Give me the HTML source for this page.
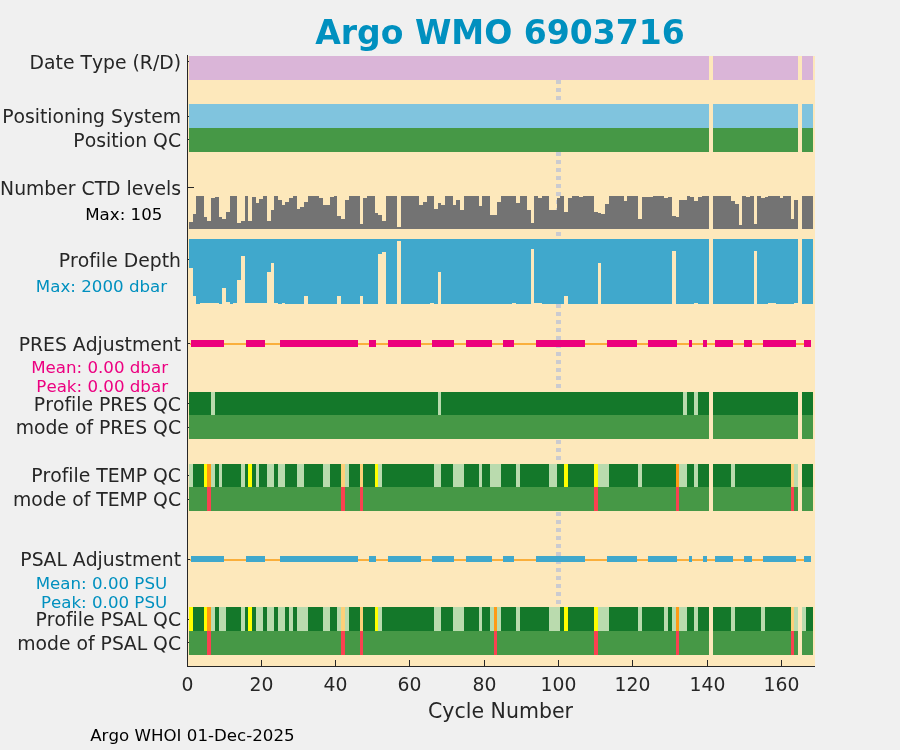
<!DOCTYPE html>
<html><head><meta charset="utf-8"><title>Argo WMO 6903716</title>
<style>
html,body{margin:0;padding:0;background:#F0F0F0;}
body{width:900px;height:750px;overflow:hidden;}
svg{display:block;font-family:"DejaVu Sans","Liberation Sans",sans-serif;font-variant-ligatures:none;font-kerning:none;}
svg .s rect{shape-rendering:crispEdges;}
</style></head><body>
<svg width="900" height="750" viewBox="0 0 900 750">
<rect x="0" y="0" width="900" height="750" fill="#F0F0F0"/>
<g class="s">
<rect x="187" y="56" width="628" height="610.5" fill="#FDE8BB"/>
<rect x="556" y="56" width="5" height="4" fill="#CBCBD0"/>
<rect x="556" y="64" width="5" height="4" fill="#CBCBD0"/>
<rect x="556" y="72" width="5" height="4" fill="#CBCBD0"/>
<rect x="556" y="80" width="5" height="4" fill="#CBCBD0"/>
<rect x="556" y="88" width="5" height="4" fill="#CBCBD0"/>
<rect x="556" y="96" width="5" height="4" fill="#CBCBD0"/>
<rect x="556" y="104" width="5" height="4" fill="#CBCBD0"/>
<rect x="556" y="112" width="5" height="4" fill="#CBCBD0"/>
<rect x="556" y="120" width="5" height="4" fill="#CBCBD0"/>
<rect x="556" y="128" width="5" height="4" fill="#CBCBD0"/>
<rect x="556" y="136" width="5" height="4" fill="#CBCBD0"/>
<rect x="556" y="144" width="5" height="4" fill="#CBCBD0"/>
<rect x="556" y="152" width="5" height="4" fill="#CBCBD0"/>
<rect x="556" y="160" width="5" height="4" fill="#CBCBD0"/>
<rect x="556" y="168" width="5" height="4" fill="#CBCBD0"/>
<rect x="556" y="176" width="5" height="4" fill="#CBCBD0"/>
<rect x="556" y="184" width="5" height="4" fill="#CBCBD0"/>
<rect x="556" y="192" width="5" height="4" fill="#CBCBD0"/>
<rect x="556" y="200" width="5" height="4" fill="#CBCBD0"/>
<rect x="556" y="208" width="5" height="4" fill="#CBCBD0"/>
<rect x="556" y="216" width="5" height="4" fill="#CBCBD0"/>
<rect x="556" y="224" width="5" height="4" fill="#CBCBD0"/>
<rect x="556" y="232" width="5" height="4" fill="#CBCBD0"/>
<rect x="556" y="240" width="5" height="4" fill="#CBCBD0"/>
<rect x="556" y="248" width="5" height="4" fill="#CBCBD0"/>
<rect x="556" y="256" width="5" height="4" fill="#CBCBD0"/>
<rect x="556" y="264" width="5" height="4" fill="#CBCBD0"/>
<rect x="556" y="272" width="5" height="4" fill="#CBCBD0"/>
<rect x="556" y="280" width="5" height="4" fill="#CBCBD0"/>
<rect x="556" y="288" width="5" height="4" fill="#CBCBD0"/>
<rect x="556" y="296" width="5" height="4" fill="#CBCBD0"/>
<rect x="556" y="304" width="5" height="4" fill="#CBCBD0"/>
<rect x="556" y="312" width="5" height="4" fill="#CBCBD0"/>
<rect x="556" y="320" width="5" height="4" fill="#CBCBD0"/>
<rect x="556" y="328" width="5" height="4" fill="#CBCBD0"/>
<rect x="556" y="336" width="5" height="4" fill="#CBCBD0"/>
<rect x="556" y="344" width="5" height="4" fill="#CBCBD0"/>
<rect x="556" y="352" width="5" height="4" fill="#CBCBD0"/>
<rect x="556" y="360" width="5" height="4" fill="#CBCBD0"/>
<rect x="556" y="368" width="5" height="4" fill="#CBCBD0"/>
<rect x="556" y="376" width="5" height="4" fill="#CBCBD0"/>
<rect x="556" y="384" width="5" height="4" fill="#CBCBD0"/>
<rect x="556" y="392" width="5" height="4" fill="#CBCBD0"/>
<rect x="556" y="400" width="5" height="4" fill="#CBCBD0"/>
<rect x="556" y="408" width="5" height="4" fill="#CBCBD0"/>
<rect x="556" y="416" width="5" height="4" fill="#CBCBD0"/>
<rect x="556" y="424" width="5" height="4" fill="#CBCBD0"/>
<rect x="556" y="432" width="5" height="4" fill="#CBCBD0"/>
<rect x="556" y="440" width="5" height="4" fill="#CBCBD0"/>
<rect x="556" y="448" width="5" height="4" fill="#CBCBD0"/>
<rect x="556" y="456" width="5" height="4" fill="#CBCBD0"/>
<rect x="556" y="464" width="5" height="4" fill="#CBCBD0"/>
<rect x="556" y="472" width="5" height="4" fill="#CBCBD0"/>
<rect x="556" y="480" width="5" height="4" fill="#CBCBD0"/>
<rect x="556" y="488" width="5" height="4" fill="#CBCBD0"/>
<rect x="556" y="496" width="5" height="4" fill="#CBCBD0"/>
<rect x="556" y="504" width="5" height="4" fill="#CBCBD0"/>
<rect x="556" y="512" width="5" height="4" fill="#CBCBD0"/>
<rect x="556" y="520" width="5" height="4" fill="#CBCBD0"/>
<rect x="556" y="528" width="5" height="4" fill="#CBCBD0"/>
<rect x="556" y="536" width="5" height="4" fill="#CBCBD0"/>
<rect x="556" y="544" width="5" height="4" fill="#CBCBD0"/>
<rect x="556" y="552" width="5" height="4" fill="#CBCBD0"/>
<rect x="556" y="560" width="5" height="4" fill="#CBCBD0"/>
<rect x="556" y="568" width="5" height="4" fill="#CBCBD0"/>
<rect x="556" y="576" width="5" height="4" fill="#CBCBD0"/>
<rect x="556" y="584" width="5" height="4" fill="#CBCBD0"/>
<rect x="556" y="592" width="5" height="4" fill="#CBCBD0"/>
<rect x="556" y="600" width="5" height="4" fill="#CBCBD0"/>
<rect x="187" y="660" width="1" height="6" fill="#262626"/>
<rect x="261" y="660" width="1" height="6" fill="#262626"/>
<rect x="335" y="660" width="1" height="6" fill="#262626"/>
<rect x="409" y="660" width="1" height="6" fill="#262626"/>
<rect x="484" y="660" width="1" height="6" fill="#262626"/>
<rect x="558" y="660" width="1" height="6" fill="#262626"/>
<rect x="632" y="660" width="1" height="6" fill="#262626"/>
<rect x="707" y="660" width="1" height="6" fill="#262626"/>
<rect x="781" y="660" width="1" height="6" fill="#262626"/>
<rect x="188" y="61" width="6" height="1" fill="#262626"/>
<rect x="188" y="116" width="6" height="1" fill="#262626"/>
<rect x="188" y="139" width="6" height="1" fill="#262626"/>
<rect x="188" y="187" width="6" height="1" fill="#262626"/>
<rect x="188" y="259" width="6" height="1" fill="#262626"/>
<rect x="188" y="343" width="6" height="1" fill="#262626"/>
<rect x="188" y="403" width="6" height="1" fill="#262626"/>
<rect x="188" y="427" width="6" height="1" fill="#262626"/>
<rect x="188" y="475" width="6" height="1" fill="#262626"/>
<rect x="188" y="499" width="6" height="1" fill="#262626"/>
<rect x="188" y="559" width="6" height="1" fill="#262626"/>
<rect x="188" y="619" width="6" height="1" fill="#262626"/>
<rect x="188" y="642" width="6" height="1" fill="#262626"/>
<rect x="189" y="56" width="520" height="24" fill="#DAB5D8"/>
<rect x="713" y="56" width="85" height="24" fill="#DAB5D8"/>
<rect x="802" y="56" width="11" height="24" fill="#DAB5D8"/>
<rect x="189" y="104" width="520" height="24" fill="#80C4DE"/>
<rect x="713" y="104" width="85" height="24" fill="#80C4DE"/>
<rect x="802" y="104" width="11" height="24" fill="#80C4DE"/>
<rect x="189" y="128" width="520" height="24" fill="#469846"/>
<rect x="713" y="128" width="85" height="24" fill="#469846"/>
<rect x="802" y="128" width="11" height="24" fill="#469846"/>
<rect x="189" y="222" width="4" height="7" fill="#737373"/>
<rect x="193" y="214" width="3" height="15" fill="#737373"/>
<rect x="196" y="196" width="4" height="33" fill="#737373"/>
<rect x="200" y="196" width="4" height="33" fill="#737373"/>
<rect x="204" y="217" width="3" height="12" fill="#737373"/>
<rect x="207" y="221" width="4" height="8" fill="#737373"/>
<rect x="211" y="198" width="4" height="31" fill="#737373"/>
<rect x="215" y="197" width="4" height="32" fill="#737373"/>
<rect x="219" y="217" width="3" height="12" fill="#737373"/>
<rect x="222" y="219" width="4" height="10" fill="#737373"/>
<rect x="226" y="212" width="4" height="17" fill="#737373"/>
<rect x="230" y="196" width="3" height="33" fill="#737373"/>
<rect x="233" y="196" width="4" height="33" fill="#737373"/>
<rect x="237" y="223" width="4" height="6" fill="#737373"/>
<rect x="241" y="221" width="4" height="8" fill="#737373"/>
<rect x="245" y="196" width="3" height="33" fill="#737373"/>
<rect x="248" y="221" width="4" height="8" fill="#737373"/>
<rect x="252" y="197" width="4" height="32" fill="#737373"/>
<rect x="256" y="203" width="3" height="26" fill="#737373"/>
<rect x="259" y="199" width="4" height="30" fill="#737373"/>
<rect x="263" y="196" width="4" height="33" fill="#737373"/>
<rect x="267" y="221" width="4" height="8" fill="#737373"/>
<rect x="271" y="210" width="3" height="19" fill="#737373"/>
<rect x="274" y="196" width="4" height="33" fill="#737373"/>
<rect x="278" y="200" width="4" height="29" fill="#737373"/>
<rect x="282" y="205" width="3" height="24" fill="#737373"/>
<rect x="285" y="202" width="4" height="27" fill="#737373"/>
<rect x="289" y="198" width="4" height="31" fill="#737373"/>
<rect x="293" y="196" width="4" height="33" fill="#737373"/>
<rect x="297" y="209" width="3" height="20" fill="#737373"/>
<rect x="300" y="207" width="4" height="22" fill="#737373"/>
<rect x="304" y="202" width="4" height="27" fill="#737373"/>
<rect x="308" y="196" width="3" height="33" fill="#737373"/>
<rect x="311" y="196" width="4" height="33" fill="#737373"/>
<rect x="315" y="196" width="4" height="33" fill="#737373"/>
<rect x="319" y="198" width="4" height="31" fill="#737373"/>
<rect x="323" y="205" width="3" height="24" fill="#737373"/>
<rect x="326" y="205" width="4" height="24" fill="#737373"/>
<rect x="330" y="197" width="4" height="32" fill="#737373"/>
<rect x="334" y="196" width="3" height="33" fill="#737373"/>
<rect x="337" y="216" width="4" height="13" fill="#737373"/>
<rect x="341" y="219" width="4" height="10" fill="#737373"/>
<rect x="345" y="200" width="4" height="29" fill="#737373"/>
<rect x="349" y="196" width="3" height="33" fill="#737373"/>
<rect x="352" y="196" width="4" height="33" fill="#737373"/>
<rect x="356" y="196" width="4" height="33" fill="#737373"/>
<rect x="360" y="224" width="3" height="5" fill="#737373"/>
<rect x="363" y="198" width="4" height="31" fill="#737373"/>
<rect x="367" y="196" width="4" height="33" fill="#737373"/>
<rect x="371" y="196" width="4" height="33" fill="#737373"/>
<rect x="375" y="213" width="3" height="16" fill="#737373"/>
<rect x="378" y="215" width="4" height="14" fill="#737373"/>
<rect x="382" y="221" width="4" height="8" fill="#737373"/>
<rect x="386" y="196" width="3" height="33" fill="#737373"/>
<rect x="389" y="196" width="4" height="33" fill="#737373"/>
<rect x="393" y="196" width="4" height="33" fill="#737373"/>
<rect x="397" y="227" width="4" height="2" fill="#737373"/>
<rect x="401" y="196" width="3" height="33" fill="#737373"/>
<rect x="404" y="196" width="4" height="33" fill="#737373"/>
<rect x="408" y="196" width="4" height="33" fill="#737373"/>
<rect x="412" y="196" width="3" height="33" fill="#737373"/>
<rect x="415" y="196" width="4" height="33" fill="#737373"/>
<rect x="419" y="205" width="4" height="24" fill="#737373"/>
<rect x="423" y="202" width="4" height="27" fill="#737373"/>
<rect x="427" y="196" width="3" height="33" fill="#737373"/>
<rect x="430" y="196" width="4" height="33" fill="#737373"/>
<rect x="434" y="209" width="4" height="20" fill="#737373"/>
<rect x="438" y="203" width="3" height="26" fill="#737373"/>
<rect x="441" y="205" width="4" height="24" fill="#737373"/>
<rect x="445" y="196" width="4" height="33" fill="#737373"/>
<rect x="449" y="196" width="4" height="33" fill="#737373"/>
<rect x="453" y="205" width="3" height="24" fill="#737373"/>
<rect x="456" y="200" width="4" height="29" fill="#737373"/>
<rect x="460" y="210" width="4" height="19" fill="#737373"/>
<rect x="464" y="196" width="4" height="33" fill="#737373"/>
<rect x="468" y="196" width="3" height="33" fill="#737373"/>
<rect x="471" y="196" width="4" height="33" fill="#737373"/>
<rect x="475" y="196" width="4" height="33" fill="#737373"/>
<rect x="479" y="206" width="3" height="23" fill="#737373"/>
<rect x="482" y="196" width="4" height="33" fill="#737373"/>
<rect x="486" y="196" width="4" height="33" fill="#737373"/>
<rect x="490" y="215" width="4" height="14" fill="#737373"/>
<rect x="494" y="215" width="3" height="14" fill="#737373"/>
<rect x="497" y="202" width="4" height="27" fill="#737373"/>
<rect x="501" y="196" width="4" height="33" fill="#737373"/>
<rect x="505" y="196" width="3" height="33" fill="#737373"/>
<rect x="508" y="196" width="4" height="33" fill="#737373"/>
<rect x="512" y="196" width="4" height="33" fill="#737373"/>
<rect x="516" y="203" width="4" height="26" fill="#737373"/>
<rect x="520" y="196" width="3" height="33" fill="#737373"/>
<rect x="523" y="196" width="4" height="33" fill="#737373"/>
<rect x="527" y="210" width="4" height="19" fill="#737373"/>
<rect x="531" y="223" width="3" height="6" fill="#737373"/>
<rect x="534" y="196" width="4" height="33" fill="#737373"/>
<rect x="538" y="198" width="4" height="31" fill="#737373"/>
<rect x="542" y="196" width="4" height="33" fill="#737373"/>
<rect x="546" y="196" width="3" height="33" fill="#737373"/>
<rect x="549" y="210" width="4" height="19" fill="#737373"/>
<rect x="553" y="210" width="4" height="19" fill="#737373"/>
<rect x="557" y="198" width="3" height="31" fill="#737373"/>
<rect x="560" y="196" width="4" height="33" fill="#737373"/>
<rect x="564" y="212" width="4" height="17" fill="#737373"/>
<rect x="568" y="198" width="4" height="31" fill="#737373"/>
<rect x="572" y="196" width="3" height="33" fill="#737373"/>
<rect x="575" y="196" width="4" height="33" fill="#737373"/>
<rect x="579" y="197" width="4" height="32" fill="#737373"/>
<rect x="583" y="196" width="3" height="33" fill="#737373"/>
<rect x="586" y="196" width="4" height="33" fill="#737373"/>
<rect x="590" y="196" width="4" height="33" fill="#737373"/>
<rect x="594" y="212" width="4" height="17" fill="#737373"/>
<rect x="598" y="213" width="3" height="16" fill="#737373"/>
<rect x="601" y="214" width="4" height="15" fill="#737373"/>
<rect x="605" y="204" width="4" height="25" fill="#737373"/>
<rect x="609" y="196" width="3" height="33" fill="#737373"/>
<rect x="612" y="196" width="4" height="33" fill="#737373"/>
<rect x="616" y="196" width="4" height="33" fill="#737373"/>
<rect x="620" y="196" width="4" height="33" fill="#737373"/>
<rect x="624" y="201" width="3" height="28" fill="#737373"/>
<rect x="627" y="196" width="4" height="33" fill="#737373"/>
<rect x="631" y="196" width="4" height="33" fill="#737373"/>
<rect x="635" y="196" width="3" height="33" fill="#737373"/>
<rect x="638" y="219" width="4" height="10" fill="#737373"/>
<rect x="642" y="197" width="4" height="32" fill="#737373"/>
<rect x="646" y="197" width="4" height="32" fill="#737373"/>
<rect x="650" y="197" width="3" height="32" fill="#737373"/>
<rect x="653" y="196" width="4" height="33" fill="#737373"/>
<rect x="657" y="196" width="4" height="33" fill="#737373"/>
<rect x="661" y="196" width="3" height="33" fill="#737373"/>
<rect x="664" y="198" width="4" height="31" fill="#737373"/>
<rect x="668" y="197" width="4" height="32" fill="#737373"/>
<rect x="672" y="216" width="4" height="13" fill="#737373"/>
<rect x="676" y="217" width="3" height="12" fill="#737373"/>
<rect x="679" y="200" width="4" height="29" fill="#737373"/>
<rect x="683" y="200" width="4" height="29" fill="#737373"/>
<rect x="687" y="196" width="3" height="33" fill="#737373"/>
<rect x="690" y="197" width="4" height="32" fill="#737373"/>
<rect x="694" y="201" width="4" height="28" fill="#737373"/>
<rect x="698" y="197" width="4" height="32" fill="#737373"/>
<rect x="702" y="196" width="3" height="33" fill="#737373"/>
<rect x="705" y="196" width="4" height="33" fill="#737373"/>
<rect x="713" y="196" width="3" height="33" fill="#737373"/>
<rect x="716" y="196" width="4" height="33" fill="#737373"/>
<rect x="720" y="196" width="4" height="33" fill="#737373"/>
<rect x="724" y="196" width="4" height="33" fill="#737373"/>
<rect x="728" y="196" width="3" height="33" fill="#737373"/>
<rect x="731" y="201" width="4" height="28" fill="#737373"/>
<rect x="735" y="204" width="4" height="25" fill="#737373"/>
<rect x="739" y="225" width="3" height="4" fill="#737373"/>
<rect x="742" y="196" width="4" height="33" fill="#737373"/>
<rect x="746" y="197" width="4" height="32" fill="#737373"/>
<rect x="750" y="196" width="4" height="33" fill="#737373"/>
<rect x="754" y="224" width="3" height="5" fill="#737373"/>
<rect x="757" y="196" width="4" height="33" fill="#737373"/>
<rect x="761" y="198" width="4" height="31" fill="#737373"/>
<rect x="765" y="197" width="3" height="32" fill="#737373"/>
<rect x="768" y="196" width="4" height="33" fill="#737373"/>
<rect x="772" y="196" width="4" height="33" fill="#737373"/>
<rect x="776" y="196" width="4" height="33" fill="#737373"/>
<rect x="780" y="198" width="3" height="31" fill="#737373"/>
<rect x="783" y="196" width="4" height="33" fill="#737373"/>
<rect x="787" y="196" width="4" height="33" fill="#737373"/>
<rect x="791" y="219" width="3" height="10" fill="#737373"/>
<rect x="794" y="200" width="4" height="29" fill="#737373"/>
<rect x="802" y="196" width="4" height="33" fill="#737373"/>
<rect x="806" y="196" width="3" height="33" fill="#737373"/>
<rect x="809" y="196" width="4" height="33" fill="#737373"/>
<rect x="189" y="239" width="4" height="29" fill="#40A8CC"/>
<rect x="193" y="239" width="3" height="57" fill="#40A8CC"/>
<rect x="196" y="239" width="4" height="65" fill="#40A8CC"/>
<rect x="200" y="239" width="4" height="64" fill="#40A8CC"/>
<rect x="204" y="239" width="3" height="64" fill="#40A8CC"/>
<rect x="207" y="239" width="4" height="64" fill="#40A8CC"/>
<rect x="211" y="239" width="4" height="64" fill="#40A8CC"/>
<rect x="215" y="239" width="4" height="64" fill="#40A8CC"/>
<rect x="219" y="239" width="3" height="65" fill="#40A8CC"/>
<rect x="222" y="239" width="4" height="49" fill="#40A8CC"/>
<rect x="226" y="239" width="4" height="63" fill="#40A8CC"/>
<rect x="230" y="239" width="3" height="65" fill="#40A8CC"/>
<rect x="233" y="239" width="4" height="64" fill="#40A8CC"/>
<rect x="237" y="239" width="4" height="41" fill="#40A8CC"/>
<rect x="241" y="239" width="4" height="17" fill="#40A8CC"/>
<rect x="245" y="239" width="3" height="64" fill="#40A8CC"/>
<rect x="248" y="239" width="4" height="64" fill="#40A8CC"/>
<rect x="252" y="239" width="4" height="64" fill="#40A8CC"/>
<rect x="256" y="239" width="3" height="64" fill="#40A8CC"/>
<rect x="259" y="239" width="4" height="64" fill="#40A8CC"/>
<rect x="263" y="239" width="4" height="64" fill="#40A8CC"/>
<rect x="267" y="239" width="4" height="33" fill="#40A8CC"/>
<rect x="271" y="239" width="3" height="24" fill="#40A8CC"/>
<rect x="274" y="239" width="4" height="64" fill="#40A8CC"/>
<rect x="278" y="239" width="4" height="65" fill="#40A8CC"/>
<rect x="282" y="239" width="3" height="64" fill="#40A8CC"/>
<rect x="285" y="239" width="4" height="65" fill="#40A8CC"/>
<rect x="289" y="239" width="4" height="65" fill="#40A8CC"/>
<rect x="293" y="239" width="4" height="65" fill="#40A8CC"/>
<rect x="297" y="239" width="3" height="65" fill="#40A8CC"/>
<rect x="300" y="239" width="4" height="65" fill="#40A8CC"/>
<rect x="304" y="239" width="4" height="57" fill="#40A8CC"/>
<rect x="308" y="239" width="3" height="65" fill="#40A8CC"/>
<rect x="311" y="239" width="4" height="65" fill="#40A8CC"/>
<rect x="315" y="239" width="4" height="65" fill="#40A8CC"/>
<rect x="319" y="239" width="4" height="65" fill="#40A8CC"/>
<rect x="323" y="239" width="3" height="65" fill="#40A8CC"/>
<rect x="326" y="239" width="4" height="65" fill="#40A8CC"/>
<rect x="330" y="239" width="4" height="65" fill="#40A8CC"/>
<rect x="334" y="239" width="3" height="65" fill="#40A8CC"/>
<rect x="337" y="239" width="4" height="57" fill="#40A8CC"/>
<rect x="341" y="239" width="4" height="65" fill="#40A8CC"/>
<rect x="345" y="239" width="4" height="65" fill="#40A8CC"/>
<rect x="349" y="239" width="3" height="65" fill="#40A8CC"/>
<rect x="352" y="239" width="4" height="65" fill="#40A8CC"/>
<rect x="356" y="239" width="4" height="65" fill="#40A8CC"/>
<rect x="360" y="239" width="3" height="57" fill="#40A8CC"/>
<rect x="363" y="239" width="4" height="65" fill="#40A8CC"/>
<rect x="367" y="239" width="4" height="65" fill="#40A8CC"/>
<rect x="371" y="239" width="4" height="65" fill="#40A8CC"/>
<rect x="375" y="239" width="3" height="65" fill="#40A8CC"/>
<rect x="378" y="239" width="4" height="15" fill="#40A8CC"/>
<rect x="382" y="239" width="4" height="13" fill="#40A8CC"/>
<rect x="386" y="239" width="3" height="65" fill="#40A8CC"/>
<rect x="389" y="239" width="4" height="65" fill="#40A8CC"/>
<rect x="393" y="239" width="4" height="65" fill="#40A8CC"/>
<rect x="397" y="239" width="4" height="2" fill="#40A8CC"/>
<rect x="401" y="239" width="3" height="65" fill="#40A8CC"/>
<rect x="404" y="239" width="4" height="65" fill="#40A8CC"/>
<rect x="408" y="239" width="4" height="65" fill="#40A8CC"/>
<rect x="412" y="239" width="3" height="65" fill="#40A8CC"/>
<rect x="415" y="239" width="4" height="65" fill="#40A8CC"/>
<rect x="419" y="239" width="4" height="65" fill="#40A8CC"/>
<rect x="423" y="239" width="4" height="65" fill="#40A8CC"/>
<rect x="427" y="239" width="3" height="65" fill="#40A8CC"/>
<rect x="430" y="239" width="4" height="64" fill="#40A8CC"/>
<rect x="434" y="239" width="4" height="65" fill="#40A8CC"/>
<rect x="438" y="239" width="3" height="33" fill="#40A8CC"/>
<rect x="441" y="239" width="4" height="65" fill="#40A8CC"/>
<rect x="445" y="239" width="4" height="65" fill="#40A8CC"/>
<rect x="449" y="239" width="4" height="65" fill="#40A8CC"/>
<rect x="453" y="239" width="3" height="65" fill="#40A8CC"/>
<rect x="456" y="239" width="4" height="65" fill="#40A8CC"/>
<rect x="460" y="239" width="4" height="65" fill="#40A8CC"/>
<rect x="464" y="239" width="4" height="65" fill="#40A8CC"/>
<rect x="468" y="239" width="3" height="65" fill="#40A8CC"/>
<rect x="471" y="239" width="4" height="65" fill="#40A8CC"/>
<rect x="475" y="239" width="4" height="65" fill="#40A8CC"/>
<rect x="479" y="239" width="3" height="65" fill="#40A8CC"/>
<rect x="482" y="239" width="4" height="65" fill="#40A8CC"/>
<rect x="486" y="239" width="4" height="65" fill="#40A8CC"/>
<rect x="490" y="239" width="4" height="65" fill="#40A8CC"/>
<rect x="494" y="239" width="3" height="65" fill="#40A8CC"/>
<rect x="497" y="239" width="4" height="65" fill="#40A8CC"/>
<rect x="501" y="239" width="4" height="65" fill="#40A8CC"/>
<rect x="505" y="239" width="3" height="65" fill="#40A8CC"/>
<rect x="508" y="239" width="4" height="65" fill="#40A8CC"/>
<rect x="512" y="239" width="4" height="64" fill="#40A8CC"/>
<rect x="516" y="239" width="4" height="65" fill="#40A8CC"/>
<rect x="520" y="239" width="3" height="65" fill="#40A8CC"/>
<rect x="523" y="239" width="4" height="65" fill="#40A8CC"/>
<rect x="527" y="239" width="4" height="65" fill="#40A8CC"/>
<rect x="531" y="239" width="3" height="10" fill="#40A8CC"/>
<rect x="534" y="239" width="4" height="64" fill="#40A8CC"/>
<rect x="538" y="239" width="4" height="64" fill="#40A8CC"/>
<rect x="542" y="239" width="4" height="65" fill="#40A8CC"/>
<rect x="546" y="239" width="3" height="65" fill="#40A8CC"/>
<rect x="549" y="239" width="4" height="65" fill="#40A8CC"/>
<rect x="553" y="239" width="4" height="65" fill="#40A8CC"/>
<rect x="557" y="239" width="3" height="65" fill="#40A8CC"/>
<rect x="560" y="239" width="4" height="65" fill="#40A8CC"/>
<rect x="564" y="239" width="4" height="57" fill="#40A8CC"/>
<rect x="568" y="239" width="4" height="65" fill="#40A8CC"/>
<rect x="572" y="239" width="3" height="65" fill="#40A8CC"/>
<rect x="575" y="239" width="4" height="65" fill="#40A8CC"/>
<rect x="579" y="239" width="4" height="65" fill="#40A8CC"/>
<rect x="583" y="239" width="3" height="65" fill="#40A8CC"/>
<rect x="586" y="239" width="4" height="65" fill="#40A8CC"/>
<rect x="590" y="239" width="4" height="65" fill="#40A8CC"/>
<rect x="594" y="239" width="4" height="65" fill="#40A8CC"/>
<rect x="598" y="239" width="3" height="24" fill="#40A8CC"/>
<rect x="601" y="239" width="4" height="65" fill="#40A8CC"/>
<rect x="605" y="239" width="4" height="65" fill="#40A8CC"/>
<rect x="609" y="239" width="3" height="65" fill="#40A8CC"/>
<rect x="612" y="239" width="4" height="65" fill="#40A8CC"/>
<rect x="616" y="239" width="4" height="65" fill="#40A8CC"/>
<rect x="620" y="239" width="4" height="65" fill="#40A8CC"/>
<rect x="624" y="239" width="3" height="65" fill="#40A8CC"/>
<rect x="627" y="239" width="4" height="65" fill="#40A8CC"/>
<rect x="631" y="239" width="4" height="65" fill="#40A8CC"/>
<rect x="635" y="239" width="3" height="65" fill="#40A8CC"/>
<rect x="638" y="239" width="4" height="65" fill="#40A8CC"/>
<rect x="642" y="239" width="4" height="65" fill="#40A8CC"/>
<rect x="646" y="239" width="4" height="65" fill="#40A8CC"/>
<rect x="650" y="239" width="3" height="65" fill="#40A8CC"/>
<rect x="653" y="239" width="4" height="65" fill="#40A8CC"/>
<rect x="657" y="239" width="4" height="65" fill="#40A8CC"/>
<rect x="661" y="239" width="3" height="65" fill="#40A8CC"/>
<rect x="664" y="239" width="4" height="65" fill="#40A8CC"/>
<rect x="668" y="239" width="4" height="65" fill="#40A8CC"/>
<rect x="672" y="239" width="4" height="12" fill="#40A8CC"/>
<rect x="676" y="239" width="3" height="65" fill="#40A8CC"/>
<rect x="679" y="239" width="4" height="65" fill="#40A8CC"/>
<rect x="683" y="239" width="4" height="65" fill="#40A8CC"/>
<rect x="687" y="239" width="3" height="65" fill="#40A8CC"/>
<rect x="690" y="239" width="4" height="65" fill="#40A8CC"/>
<rect x="694" y="239" width="4" height="64" fill="#40A8CC"/>
<rect x="698" y="239" width="4" height="65" fill="#40A8CC"/>
<rect x="702" y="239" width="3" height="65" fill="#40A8CC"/>
<rect x="705" y="239" width="4" height="65" fill="#40A8CC"/>
<rect x="713" y="239" width="3" height="65" fill="#40A8CC"/>
<rect x="716" y="239" width="4" height="65" fill="#40A8CC"/>
<rect x="720" y="239" width="4" height="65" fill="#40A8CC"/>
<rect x="724" y="239" width="4" height="65" fill="#40A8CC"/>
<rect x="728" y="239" width="3" height="65" fill="#40A8CC"/>
<rect x="731" y="239" width="4" height="65" fill="#40A8CC"/>
<rect x="735" y="239" width="4" height="65" fill="#40A8CC"/>
<rect x="739" y="239" width="3" height="65" fill="#40A8CC"/>
<rect x="742" y="239" width="4" height="65" fill="#40A8CC"/>
<rect x="746" y="239" width="4" height="65" fill="#40A8CC"/>
<rect x="750" y="239" width="4" height="65" fill="#40A8CC"/>
<rect x="754" y="239" width="3" height="12" fill="#40A8CC"/>
<rect x="757" y="239" width="4" height="65" fill="#40A8CC"/>
<rect x="761" y="239" width="4" height="65" fill="#40A8CC"/>
<rect x="765" y="239" width="3" height="65" fill="#40A8CC"/>
<rect x="768" y="239" width="4" height="64" fill="#40A8CC"/>
<rect x="772" y="239" width="4" height="64" fill="#40A8CC"/>
<rect x="776" y="239" width="4" height="65" fill="#40A8CC"/>
<rect x="780" y="239" width="3" height="65" fill="#40A8CC"/>
<rect x="783" y="239" width="4" height="65" fill="#40A8CC"/>
<rect x="787" y="239" width="4" height="65" fill="#40A8CC"/>
<rect x="791" y="239" width="3" height="65" fill="#40A8CC"/>
<rect x="794" y="239" width="4" height="64" fill="#40A8CC"/>
<rect x="802" y="239" width="4" height="65" fill="#40A8CC"/>
<rect x="806" y="239" width="3" height="65" fill="#40A8CC"/>
<rect x="809" y="239" width="4" height="65" fill="#40A8CC"/>
<rect x="190" y="343" width="621" height="2" fill="#FAAF3C"/>
<rect x="191" y="340" width="33" height="7" fill="#EC007C"/>
<rect x="246" y="340" width="19" height="7" fill="#EC007C"/>
<rect x="280" y="340" width="78" height="7" fill="#EC007C"/>
<rect x="369" y="340" width="7" height="7" fill="#EC007C"/>
<rect x="388" y="340" width="33" height="7" fill="#EC007C"/>
<rect x="432" y="340" width="22" height="7" fill="#EC007C"/>
<rect x="466" y="340" width="26" height="7" fill="#EC007C"/>
<rect x="503" y="340" width="11" height="7" fill="#EC007C"/>
<rect x="536" y="340" width="49" height="7" fill="#EC007C"/>
<rect x="607" y="340" width="30" height="7" fill="#EC007C"/>
<rect x="648" y="340" width="29" height="7" fill="#EC007C"/>
<rect x="689" y="340" width="3" height="7" fill="#EC007C"/>
<rect x="703" y="340" width="4" height="7" fill="#EC007C"/>
<rect x="715" y="340" width="18" height="7" fill="#EC007C"/>
<rect x="744" y="340" width="8" height="7" fill="#EC007C"/>
<rect x="763" y="340" width="33" height="7" fill="#EC007C"/>
<rect x="804" y="340" width="7" height="7" fill="#EC007C"/>
<rect x="190" y="559" width="621" height="2" fill="#FAAF3C"/>
<rect x="191" y="556" width="33" height="6" fill="#40A8CC"/>
<rect x="246" y="556" width="19" height="6" fill="#40A8CC"/>
<rect x="280" y="556" width="78" height="6" fill="#40A8CC"/>
<rect x="369" y="556" width="7" height="6" fill="#40A8CC"/>
<rect x="388" y="556" width="33" height="6" fill="#40A8CC"/>
<rect x="432" y="556" width="22" height="6" fill="#40A8CC"/>
<rect x="466" y="556" width="26" height="6" fill="#40A8CC"/>
<rect x="503" y="556" width="11" height="6" fill="#40A8CC"/>
<rect x="536" y="556" width="49" height="6" fill="#40A8CC"/>
<rect x="607" y="556" width="30" height="6" fill="#40A8CC"/>
<rect x="648" y="556" width="29" height="6" fill="#40A8CC"/>
<rect x="689" y="556" width="3" height="6" fill="#40A8CC"/>
<rect x="703" y="556" width="4" height="6" fill="#40A8CC"/>
<rect x="715" y="556" width="18" height="6" fill="#40A8CC"/>
<rect x="744" y="556" width="8" height="6" fill="#40A8CC"/>
<rect x="763" y="556" width="33" height="6" fill="#40A8CC"/>
<rect x="804" y="556" width="7" height="6" fill="#40A8CC"/>
<rect x="189" y="392" width="22" height="23" fill="#14782A"/>
<rect x="211" y="392" width="4" height="23" fill="#BADBAE"/>
<rect x="215" y="392" width="223" height="23" fill="#14782A"/>
<rect x="438" y="392" width="3" height="23" fill="#BADBAE"/>
<rect x="441" y="392" width="242" height="23" fill="#14782A"/>
<rect x="683" y="392" width="4" height="23" fill="#BADBAE"/>
<rect x="687" y="392" width="7" height="23" fill="#14782A"/>
<rect x="694" y="392" width="4" height="23" fill="#BADBAE"/>
<rect x="698" y="392" width="11" height="23" fill="#14782A"/>
<rect x="713" y="392" width="85" height="23" fill="#14782A"/>
<rect x="802" y="392" width="11" height="23" fill="#14782A"/>
<rect x="189" y="415" width="520" height="24" fill="#469846"/>
<rect x="713" y="415" width="85" height="24" fill="#469846"/>
<rect x="802" y="415" width="11" height="24" fill="#469846"/>
<rect x="189" y="464" width="4" height="23" fill="#BADBAE"/>
<rect x="193" y="464" width="11" height="23" fill="#14782A"/>
<rect x="204" y="464" width="3" height="23" fill="#FFFF00"/>
<rect x="207" y="464" width="4" height="23" fill="#FF9A14"/>
<rect x="211" y="464" width="4" height="23" fill="#BADBAE"/>
<rect x="215" y="464" width="4" height="23" fill="#14782A"/>
<rect x="219" y="464" width="3" height="23" fill="#BADBAE"/>
<rect x="222" y="464" width="19" height="23" fill="#14782A"/>
<rect x="241" y="464" width="4" height="23" fill="#BADBAE"/>
<rect x="245" y="464" width="3" height="23" fill="#14782A"/>
<rect x="248" y="464" width="4" height="23" fill="#FFFF00"/>
<rect x="252" y="464" width="4" height="23" fill="#14782A"/>
<rect x="256" y="464" width="3" height="23" fill="#BADBAE"/>
<rect x="259" y="464" width="8" height="23" fill="#14782A"/>
<rect x="267" y="464" width="7" height="23" fill="#BADBAE"/>
<rect x="274" y="464" width="4" height="23" fill="#14782A"/>
<rect x="278" y="464" width="7" height="23" fill="#BADBAE"/>
<rect x="285" y="464" width="12" height="23" fill="#14782A"/>
<rect x="297" y="464" width="7" height="23" fill="#BADBAE"/>
<rect x="304" y="464" width="19" height="23" fill="#14782A"/>
<rect x="323" y="464" width="7" height="23" fill="#BADBAE"/>
<rect x="330" y="464" width="11" height="23" fill="#14782A"/>
<rect x="341" y="464" width="4" height="23" fill="#FDD078"/>
<rect x="345" y="464" width="4" height="23" fill="#BADBAE"/>
<rect x="349" y="464" width="11" height="23" fill="#14782A"/>
<rect x="360" y="464" width="3" height="23" fill="#FDD078"/>
<rect x="363" y="464" width="12" height="23" fill="#14782A"/>
<rect x="375" y="464" width="3" height="23" fill="#FFFF00"/>
<rect x="378" y="464" width="4" height="23" fill="#BADBAE"/>
<rect x="382" y="464" width="52" height="23" fill="#14782A"/>
<rect x="434" y="464" width="7" height="23" fill="#BADBAE"/>
<rect x="441" y="464" width="12" height="23" fill="#14782A"/>
<rect x="453" y="464" width="11" height="23" fill="#BADBAE"/>
<rect x="464" y="464" width="15" height="23" fill="#14782A"/>
<rect x="479" y="464" width="3" height="23" fill="#BADBAE"/>
<rect x="482" y="464" width="8" height="23" fill="#14782A"/>
<rect x="490" y="464" width="11" height="23" fill="#BADBAE"/>
<rect x="501" y="464" width="15" height="23" fill="#14782A"/>
<rect x="516" y="464" width="4" height="23" fill="#BADBAE"/>
<rect x="520" y="464" width="29" height="23" fill="#14782A"/>
<rect x="549" y="464" width="8" height="23" fill="#BADBAE"/>
<rect x="557" y="464" width="7" height="23" fill="#14782A"/>
<rect x="564" y="464" width="4" height="23" fill="#FFFF00"/>
<rect x="568" y="464" width="26" height="23" fill="#14782A"/>
<rect x="594" y="464" width="4" height="23" fill="#FFFF00"/>
<rect x="598" y="464" width="11" height="23" fill="#BADBAE"/>
<rect x="609" y="464" width="29" height="23" fill="#14782A"/>
<rect x="638" y="464" width="4" height="23" fill="#BADBAE"/>
<rect x="642" y="464" width="34" height="23" fill="#14782A"/>
<rect x="676" y="464" width="3" height="23" fill="#FF9A14"/>
<rect x="679" y="464" width="8" height="23" fill="#BADBAE"/>
<rect x="687" y="464" width="7" height="23" fill="#14782A"/>
<rect x="694" y="464" width="4" height="23" fill="#BADBAE"/>
<rect x="698" y="464" width="11" height="23" fill="#14782A"/>
<rect x="713" y="464" width="18" height="23" fill="#14782A"/>
<rect x="731" y="464" width="4" height="23" fill="#BADBAE"/>
<rect x="735" y="464" width="56" height="23" fill="#14782A"/>
<rect x="791" y="464" width="3" height="23" fill="#FDD078"/>
<rect x="794" y="464" width="4" height="23" fill="#BADBAE"/>
<rect x="802" y="464" width="11" height="23" fill="#14782A"/>
<rect x="189" y="487" width="18" height="24" fill="#469846"/>
<rect x="207" y="487" width="4" height="24" fill="#FA4150"/>
<rect x="211" y="487" width="130" height="24" fill="#469846"/>
<rect x="341" y="487" width="4" height="24" fill="#FA4150"/>
<rect x="345" y="487" width="15" height="24" fill="#469846"/>
<rect x="360" y="487" width="3" height="24" fill="#FA4150"/>
<rect x="363" y="487" width="231" height="24" fill="#469846"/>
<rect x="594" y="487" width="4" height="24" fill="#FA4150"/>
<rect x="598" y="487" width="78" height="24" fill="#469846"/>
<rect x="676" y="487" width="3" height="24" fill="#FA4150"/>
<rect x="679" y="487" width="30" height="24" fill="#469846"/>
<rect x="713" y="487" width="78" height="24" fill="#469846"/>
<rect x="791" y="487" width="3" height="24" fill="#FA4150"/>
<rect x="794" y="487" width="4" height="24" fill="#469846"/>
<rect x="802" y="487" width="11" height="24" fill="#469846"/>
<rect x="189" y="607" width="4" height="24" fill="#FFFF00"/>
<rect x="193" y="607" width="11" height="24" fill="#14782A"/>
<rect x="204" y="607" width="3" height="24" fill="#FFFF00"/>
<rect x="207" y="607" width="4" height="24" fill="#FF9A14"/>
<rect x="211" y="607" width="4" height="24" fill="#BADBAE"/>
<rect x="215" y="607" width="4" height="24" fill="#14782A"/>
<rect x="219" y="607" width="7" height="24" fill="#BADBAE"/>
<rect x="226" y="607" width="15" height="24" fill="#14782A"/>
<rect x="241" y="607" width="4" height="24" fill="#BADBAE"/>
<rect x="245" y="607" width="3" height="24" fill="#14782A"/>
<rect x="248" y="607" width="4" height="24" fill="#FFFF00"/>
<rect x="252" y="607" width="4" height="24" fill="#14782A"/>
<rect x="256" y="607" width="7" height="24" fill="#BADBAE"/>
<rect x="263" y="607" width="4" height="24" fill="#14782A"/>
<rect x="267" y="607" width="7" height="24" fill="#BADBAE"/>
<rect x="274" y="607" width="4" height="24" fill="#14782A"/>
<rect x="278" y="607" width="7" height="24" fill="#BADBAE"/>
<rect x="285" y="607" width="4" height="24" fill="#14782A"/>
<rect x="289" y="607" width="4" height="24" fill="#BADBAE"/>
<rect x="293" y="607" width="4" height="24" fill="#14782A"/>
<rect x="297" y="607" width="11" height="24" fill="#BADBAE"/>
<rect x="308" y="607" width="15" height="24" fill="#14782A"/>
<rect x="323" y="607" width="7" height="24" fill="#BADBAE"/>
<rect x="330" y="607" width="7" height="24" fill="#14782A"/>
<rect x="337" y="607" width="4" height="24" fill="#BADBAE"/>
<rect x="341" y="607" width="4" height="24" fill="#FDD078"/>
<rect x="345" y="607" width="4" height="24" fill="#BADBAE"/>
<rect x="349" y="607" width="11" height="24" fill="#14782A"/>
<rect x="360" y="607" width="3" height="24" fill="#FDD078"/>
<rect x="363" y="607" width="12" height="24" fill="#14782A"/>
<rect x="375" y="607" width="3" height="24" fill="#FFFF00"/>
<rect x="378" y="607" width="4" height="24" fill="#BADBAE"/>
<rect x="382" y="607" width="52" height="24" fill="#14782A"/>
<rect x="434" y="607" width="7" height="24" fill="#BADBAE"/>
<rect x="441" y="607" width="12" height="24" fill="#14782A"/>
<rect x="453" y="607" width="11" height="24" fill="#BADBAE"/>
<rect x="464" y="607" width="15" height="24" fill="#14782A"/>
<rect x="479" y="607" width="3" height="24" fill="#BADBAE"/>
<rect x="482" y="607" width="8" height="24" fill="#14782A"/>
<rect x="490" y="607" width="4" height="24" fill="#BADBAE"/>
<rect x="494" y="607" width="3" height="24" fill="#FF9A14"/>
<rect x="497" y="607" width="4" height="24" fill="#BADBAE"/>
<rect x="501" y="607" width="15" height="24" fill="#14782A"/>
<rect x="516" y="607" width="4" height="24" fill="#BADBAE"/>
<rect x="520" y="607" width="29" height="24" fill="#14782A"/>
<rect x="549" y="607" width="11" height="24" fill="#BADBAE"/>
<rect x="560" y="607" width="4" height="24" fill="#14782A"/>
<rect x="564" y="607" width="4" height="24" fill="#FFFF00"/>
<rect x="568" y="607" width="26" height="24" fill="#14782A"/>
<rect x="594" y="607" width="4" height="24" fill="#FFFF00"/>
<rect x="598" y="607" width="11" height="24" fill="#BADBAE"/>
<rect x="609" y="607" width="29" height="24" fill="#14782A"/>
<rect x="638" y="607" width="4" height="24" fill="#BADBAE"/>
<rect x="642" y="607" width="22" height="24" fill="#14782A"/>
<rect x="664" y="607" width="4" height="24" fill="#BADBAE"/>
<rect x="668" y="607" width="4" height="24" fill="#14782A"/>
<rect x="672" y="607" width="4" height="24" fill="#BADBAE"/>
<rect x="676" y="607" width="3" height="24" fill="#FF9A14"/>
<rect x="679" y="607" width="8" height="24" fill="#BADBAE"/>
<rect x="687" y="607" width="7" height="24" fill="#14782A"/>
<rect x="694" y="607" width="4" height="24" fill="#BADBAE"/>
<rect x="698" y="607" width="11" height="24" fill="#14782A"/>
<rect x="713" y="607" width="18" height="24" fill="#14782A"/>
<rect x="731" y="607" width="4" height="24" fill="#BADBAE"/>
<rect x="735" y="607" width="26" height="24" fill="#14782A"/>
<rect x="761" y="607" width="4" height="24" fill="#BADBAE"/>
<rect x="765" y="607" width="26" height="24" fill="#14782A"/>
<rect x="791" y="607" width="3" height="24" fill="#FDD078"/>
<rect x="794" y="607" width="4" height="24" fill="#BADBAE"/>
<rect x="802" y="607" width="4" height="24" fill="#BADBAE"/>
<rect x="806" y="607" width="7" height="24" fill="#14782A"/>
<rect x="189" y="631" width="18" height="24" fill="#469846"/>
<rect x="207" y="631" width="4" height="24" fill="#FA4150"/>
<rect x="211" y="631" width="130" height="24" fill="#469846"/>
<rect x="341" y="631" width="4" height="24" fill="#FA4150"/>
<rect x="345" y="631" width="15" height="24" fill="#469846"/>
<rect x="360" y="631" width="3" height="24" fill="#FA4150"/>
<rect x="363" y="631" width="131" height="24" fill="#469846"/>
<rect x="494" y="631" width="3" height="24" fill="#FA4150"/>
<rect x="497" y="631" width="97" height="24" fill="#469846"/>
<rect x="594" y="631" width="4" height="24" fill="#FA4150"/>
<rect x="598" y="631" width="78" height="24" fill="#469846"/>
<rect x="676" y="631" width="3" height="24" fill="#FA4150"/>
<rect x="679" y="631" width="30" height="24" fill="#469846"/>
<rect x="713" y="631" width="78" height="24" fill="#469846"/>
<rect x="791" y="631" width="3" height="24" fill="#FA4150"/>
<rect x="794" y="631" width="4" height="24" fill="#469846"/>
<rect x="802" y="631" width="11" height="24" fill="#469846"/>
<rect x="187" y="55" width="1" height="612" fill="#262626"/>
<rect x="187" y="666" width="628" height="1" fill="#262626"/>
</g>
<g>
<text x="181" y="68.5" font-size="18.8" fill="#262626" text-anchor="end" font-weight="normal">Date Type (R/D)</text>
<text x="181" y="122.8" font-size="18.8" fill="#262626" text-anchor="end" font-weight="normal">Positioning System</text>
<text x="181" y="146.8" font-size="18.8" fill="#262626" text-anchor="end" font-weight="normal">Position QC</text>
<text x="181" y="194.5" font-size="18.8" fill="#262626" text-anchor="end" font-weight="normal">Number CTD levels</text>
<text x="181" y="266.5" font-size="18.8" fill="#262626" text-anchor="end" font-weight="normal">Profile Depth</text>
<text x="181" y="350.5" font-size="18.8" fill="#262626" text-anchor="end" font-weight="normal">PRES Adjustment</text>
<text x="181" y="410.5" font-size="18.8" fill="#262626" text-anchor="end" font-weight="normal">Profile PRES QC</text>
<text x="181" y="434" font-size="18.8" fill="#262626" text-anchor="end" font-weight="normal">mode of PRES QC</text>
<text x="181" y="481.5" font-size="18.8" fill="#262626" text-anchor="end" font-weight="normal">Profile TEMP QC</text>
<text x="181" y="505.5" font-size="18.8" fill="#262626" text-anchor="end" font-weight="normal">mode of TEMP QC</text>
<text x="181" y="565.5" font-size="18.8" fill="#262626" text-anchor="end" font-weight="normal">PSAL Adjustment</text>
<text x="181" y="625.5" font-size="18.8" fill="#262626" text-anchor="end" font-weight="normal">Profile PSAL QC</text>
<text x="181" y="649.5" font-size="18.8" fill="#262626" text-anchor="end" font-weight="normal">mode of PSAL QC</text>
<text x="162.4" y="220" font-size="16.67" fill="#000" text-anchor="end" font-weight="normal">Max: 105</text>
<text x="167.1" y="291.8" font-size="16.67" fill="#0090BF" text-anchor="end" font-weight="normal">Max: 2000 dbar</text>
<text x="168" y="373.3" font-size="16.67" fill="#EC0080" text-anchor="end" font-weight="normal">Mean: 0.00 dbar</text>
<text x="168" y="392.3" font-size="16.67" fill="#EC0080" text-anchor="end" font-weight="normal">Peak: 0.00 dbar</text>
<text x="167.2" y="588.9" font-size="16.67" fill="#0090BF" text-anchor="end" font-weight="normal">Mean: 0.00 PSU</text>
<text x="167.2" y="607.8" font-size="16.67" fill="#0090BF" text-anchor="end" font-weight="normal">Peak: 0.00 PSU</text>
<text x="187.5" y="691" font-size="18.8" fill="#262626" text-anchor="middle" font-weight="normal">0</text>
<text x="261.5" y="691" font-size="18.8" fill="#262626" text-anchor="middle" font-weight="normal">20</text>
<text x="335.5" y="691" font-size="18.8" fill="#262626" text-anchor="middle" font-weight="normal">40</text>
<text x="409.5" y="691" font-size="18.8" fill="#262626" text-anchor="middle" font-weight="normal">60</text>
<text x="484.5" y="691" font-size="18.8" fill="#262626" text-anchor="middle" font-weight="normal">80</text>
<text x="558.5" y="691" font-size="18.8" fill="#262626" text-anchor="middle" font-weight="normal">100</text>
<text x="632.5" y="691" font-size="18.8" fill="#262626" text-anchor="middle" font-weight="normal">120</text>
<text x="707.5" y="691" font-size="18.8" fill="#262626" text-anchor="middle" font-weight="normal">140</text>
<text x="781.5" y="691" font-size="18.8" fill="#262626" text-anchor="middle" font-weight="normal">160</text>
<text x="500.5" y="717.5" font-size="20.5" fill="#262626" text-anchor="middle" font-weight="normal">Cycle Number</text>
<text x="90.2" y="740.7" font-size="16.67" fill="#000" text-anchor="start" font-weight="normal">Argo WHOI 01-Dec-2025</text>
<text x="500" y="44.4" font-size="33.05" fill="#0090BF" text-anchor="middle" font-weight="bold">Argo WMO 6903716</text>
</g>
</svg>
</body></html>
